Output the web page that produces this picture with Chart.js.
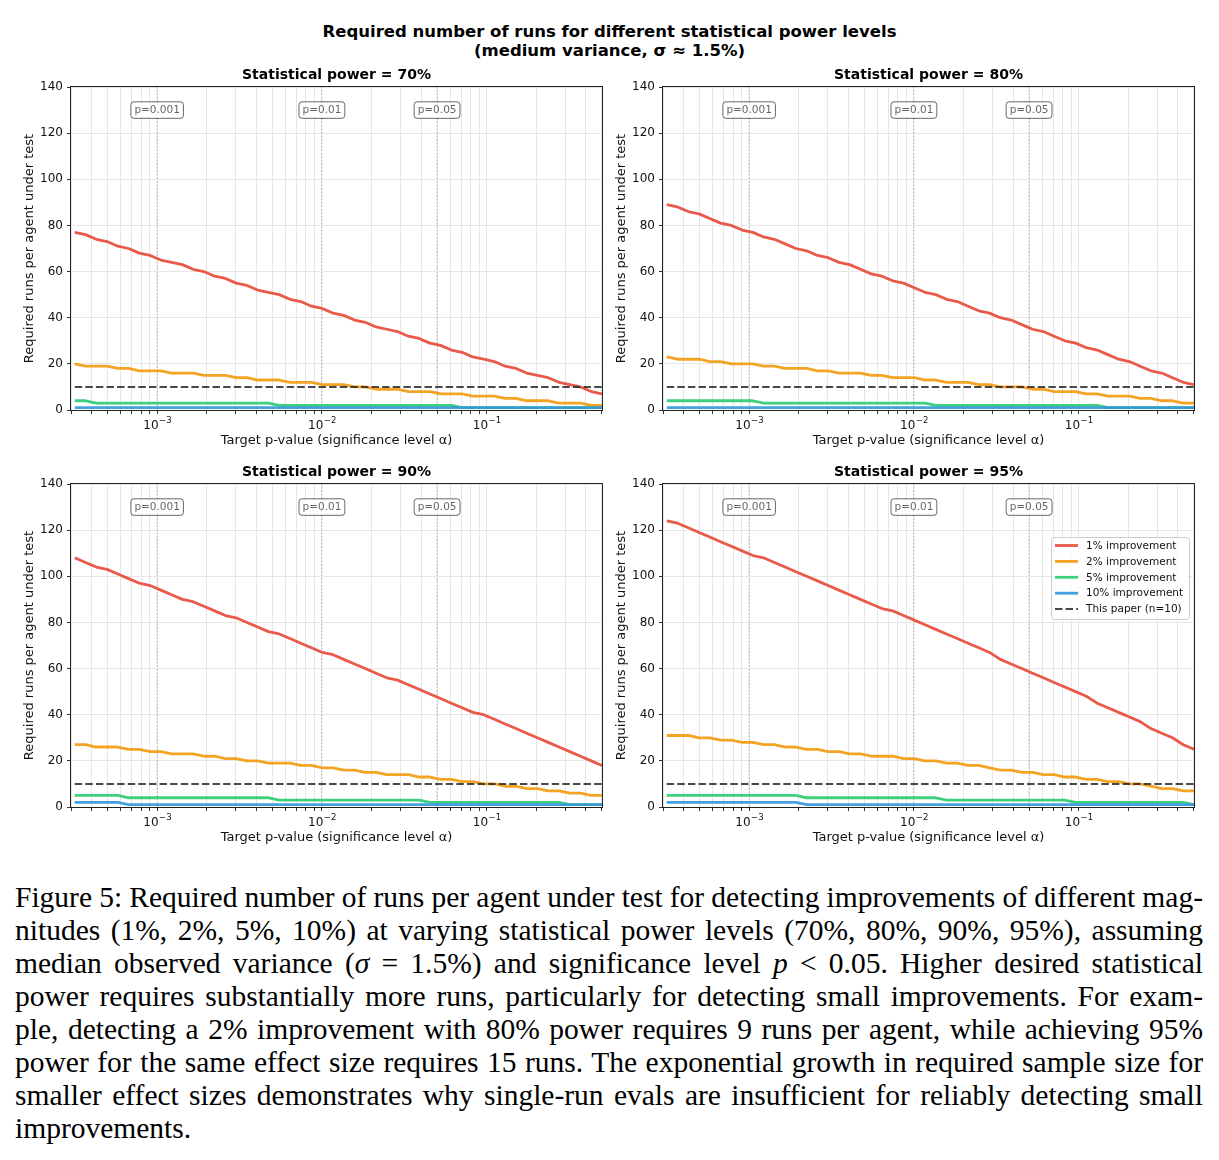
<!DOCTYPE html>
<html>
<head>
<meta charset="utf-8">
<title>Required number of runs for different statistical power levels</title>
<script src="https://cdn.jsdelivr.net/npm/chart.js@4.4.1/dist/chart.umd.min.js"></script>
<style>
  body { margin: 0; background: #fff; }
  #page { position: relative; width: 1219px; height: 1160px; overflow: hidden; font-family: 'DejaVu Sans', sans-serif; }
  #suptitle { position: absolute; left: 0; top: 22px; width: 1219px; text-align: center; font-weight: bold; font-size: 16.5px; line-height: 19px; color: #000; }
  .panel { position: absolute; width: 612px; height: 392px; }
  #caption { position: absolute; left: 15px; top: 881px; width: 1188px; font-family: 'Liberation Serif', serif; font-size: 29.5px; line-height: 33px; color: #000; }
  #caption .ln { white-space: nowrap; }
</style>
</head>
<body>
<div id="page">
  <div id="suptitle">Required number of runs for different statistical power levels<br>(medium variance, σ ≈ 1.5%)</div>
  <div class="panel" style="left:0px;top:60px"><canvas id="p70" width="612" height="392"></canvas></div>
  <div class="panel" style="left:592px;top:60px"><canvas id="p80" width="612" height="392"></canvas></div>
  <div class="panel" style="left:0px;top:457px"><canvas id="p90" width="612" height="392"></canvas></div>
  <div class="panel" style="left:592px;top:457px"><canvas id="p95" width="612" height="392"></canvas></div>
  <div id="caption">
    <div class="ln"><span>Figure 5: Required number of runs per agent under test for detecting improvements of different mag-</span></div>
    <div class="ln"><span>nitudes (1%, 2%, 5%, 10%) at varying statistical power levels (70%, 80%, 90%, 95%), assuming</span></div>
    <div class="ln"><span>median observed variance (<i>σ</i> = 1.5%) and significance level <i>p</i> &lt; 0.05. Higher desired statistical</span></div>
    <div class="ln"><span>power requires substantially more runs, particularly for detecting small improvements. For exam-</span></div>
    <div class="ln"><span>ple, detecting a 2% improvement with 80% power requires 9 runs per agent, while achieving 95%</span></div>
    <div class="ln"><span>power for the same effect size requires 15 runs. The exponential growth in required sample size for</span></div>
    <div class="ln"><span>smaller effect sizes demonstrates why single-run evals are insufficient for reliably detecting small</span></div>
    <div class="ln last"><span>improvements.</span></div>
  </div>
</div>
<script>
// target p-values (x axis, log spaced)
const alphaValues = [
  0.0003162, 0.0003677, 0.0004272, 0.0004966, 0.0005772, 0.0006709, 0.0007795, 0.0009061, 0.001053, 0.001224,
  0.001422, 0.001653, 0.001921, 0.002233, 0.002596, 0.003017, 0.003507, 0.004075, 0.004737, 0.005506,
  0.006399, 0.007437, 0.008644, 0.01005, 0.01168, 0.01357, 0.01577, 0.01833, 0.02131, 0.02477,
  0.02878, 0.03345, 0.03888, 0.04519, 0.05252, 0.06105, 0.07096, 0.08247, 0.09586, 0.1114,
  0.1295, 0.1505, 0.1749, 0.2033, 0.2363, 0.2747, 0.3193, 0.3711, 0.4313, 0.5012
];

// power = 70%
const runs1pct70 = [77,76,74,73,71,70,68,67,65,64, 63,61,60,58,57,55,54,52,51,50, 48,47,45,44,42,41,39,38,36,35, 34,32,31,29,28,26,25,23,22,21, 19,18,16,15,14,12,11,10,8,7];
const runs2pct70 = [20,19,19,19,18,18,17,17,17,16, 16,16,15,15,15,14,14,13,13,13, 12,12,12,11,11,11,10,10,9,9, 9,8,8,8,7,7,7,6,6,6, 5,5,4,4,4,3,3,3,2,2];
const runs5pct70 = [4,4,3,3,3,3,3,3,3,3, 3,3,3,3,3,3,3,3,3,2, 2,2,2,2,2,2,2,2,2,2, 2,2,2,2,2,2,1,1,1,1, 1,1,1,1,1,1,1,1,1,1];
const runs10pct70 = [1,1,1,1,1,1,1,1,1,1, 1,1,1,1,1,1,1,1,1,1, 1,1,1,1,1,1,1,1,1,1, 1,1,1,1,1,1,1,1,1,1, 1,1,1,1,1,1,1,1,1,1];

// power = 80%
const runs1pct80 = [89,88,86,85,83,81,80,78,77,75, 74,72,70,69,67,66,64,63,61,59, 58,56,55,53,51,50,48,47,45,43, 42,40,39,37,35,34,32,30,29,27, 26,24,22,21,19,17,16,14,12,11];
const runs2pct80 = [23,22,22,22,21,21,20,20,20,19, 19,18,18,18,17,17,16,16,16,15, 15,14,14,14,13,13,12,12,12,11, 11,10,10,10,9,9,8,8,8,7, 7,6,6,6,5,5,4,4,3,3];
const runs5pct80 = [4,4,4,4,4,4,4,4,4,3, 3,3,3,3,3,3,3,3,3,3, 3,3,3,3,3,2,2,2,2,2, 2,2,2,2,2,2,2,2,2,2, 2,1,1,1,1,1,1,1,1,1];
const runs10pct80 = [1,1,1,1,1,1,1,1,1,1, 1,1,1,1,1,1,1,1,1,1, 1,1,1,1,1,1,1,1,1,1, 1,1,1,1,1,1,1,1,1,1, 1,1,1,1,1,1,1,1,1,1];

// power = 90%
const runs1pct90 = [108,106,104,103,101,99,97,96,94,92, 90,89,87,85,83,82,80,78,76,75, 73,71,69,67,66,64,62,60,58,56, 55,53,51,49,47,45,43,41,40,38, 36,34,32,30,28,26,24,22,20,18];
const runs2pct90 = [27,27,26,26,26,25,25,24,24,23, 23,23,22,22,21,21,20,20,19,19, 19,18,18,17,17,16,16,15,15,14, 14,14,13,13,12,12,11,11,10,10, 9,9,8,8,7,7,6,6,5,5];
const runs5pct90 = [5,5,5,5,5,4,4,4,4,4, 4,4,4,4,4,4,4,4,4,3, 3,3,3,3,3,3,3,3,3,3, 3,3,3,2,2,2,2,2,2,2, 2,2,2,2,2,2,1,1,1,1];
const runs10pct90 = [2,2,2,2,2,1,1,1,1,1, 1,1,1,1,1,1,1,1,1,1, 1,1,1,1,1,1,1,1,1,1, 1,1,1,1,1,1,1,1,1,1, 1,1,1,1,1,1,1,1,1,1];

// power = 95%
const runs1pct95 = [124,123,121,119,117,115,113,111,109,108, 106,104,102,100,98,96,94,92,90,88, 86,85,83,81,79,77,75,73,71,69, 67,64,62,60,58,56,54,52,50,48, 45,43,41,39,37,34,32,30,27,25];
const runs2pct95 = [31,31,31,30,30,29,29,28,28,27, 27,26,26,25,25,24,24,23,23,22, 22,22,21,21,20,20,19,19,18,18, 17,16,16,15,15,14,14,13,13,12, 12,11,11,10,10,9,8,8,7,7];
const runs5pct95 = [5,5,5,5,5,5,5,5,5,5, 5,5,5,4,4,4,4,4,4,4, 4,4,4,4,4,4,3,3,3,3, 3,3,3,3,3,3,3,3,2,2, 2,2,2,2,2,2,2,2,2,1];
const runs10pct95 = [2,2,2,2,2,2,2,2,2,2, 2,2,2,1,1,1,1,1,1,1, 1,1,1,1,1,1,1,1,1,1, 1,1,1,1,1,1,1,1,1,1, 1,1,1,1,1,1,1,1,1,1];

const improvementLabels = ['1% improvement', '2% improvement', '5% improvement', '10% improvement'];
const lineColors = ['rgba(231,76,60,0.92)', 'rgba(243,156,18,0.92)', 'rgba(46,204,113,0.92)', 'rgba(52,152,219,0.92)'];
const paperRuns = 10;
const paperLabel = 'This paper (n=10)';
const pMarks = [0.001, 0.01, 0.05];
const pMarkLabels = ['p=0.001', 'p=0.01', 'p=0.05'];
const pMarkLabelY = 130;
const yMax = 140;
const yStep = 20;

Chart.defaults.font.family = "'DejaVu Sans', sans-serif";
Chart.defaults.color = '#111';

function isDecade(value) {
  const e = Math.log10(value);
  return Math.abs(e - Math.round(e)) < 1e-9;
}

// titles, p-value boxes, decade labels, frame and (optionally) legend
function makeDecor(title, showLegend) {
  return {
    id: 'panelDecor',
    afterDatasetsDraw(chart) {
      const { ctx, scales: { x, y } } = chart;
      ctx.save();
      ctx.font = "10.5px 'DejaVu Sans'";
      ctx.textAlign = 'center';
      ctx.textBaseline = 'middle';
      pMarks.forEach((p, i) => {
        const px = x.getPixelForValue(p);
        const py = y.getPixelForValue(pMarkLabelY);
        const w = ctx.measureText(pMarkLabels[i]).width + 7;
        const h = 16.5;
        ctx.beginPath();
        ctx.roundRect(px - w / 2, py - h / 2, w, h, 3);
        ctx.fillStyle = 'rgba(255,255,255,0.75)';
        ctx.fill();
        ctx.strokeStyle = 'rgba(0,0,0,0.6)';
        ctx.lineWidth = 1;
        ctx.stroke();
        ctx.fillStyle = 'rgba(0,0,0,0.62)';
        ctx.fillText(pMarkLabels[i], px, py + 0.5);
      });
      ctx.restore();
    },
    afterDraw(chart) {
      const { ctx, chartArea: a, scales: { x } } = chart;
      ctx.save();
      // frame
      ctx.strokeStyle = '#222';
      ctx.lineWidth = 1;
      ctx.strokeRect(a.left - 0.5, a.top - 0.5, a.right - a.left + 1, a.bottom - a.top + 1);

      // decade tick labels with a real superscript
      ctx.fillStyle = '#111';
      ctx.textAlign = 'left';
      ctx.textBaseline = 'alphabetic';
      x.ticks.forEach(t => {
        if (!isDecade(t.value)) return;
        const px = x.getPixelForValue(t.value);
        const base = '10';
        const exp = '\u2212' + Math.abs(Math.round(Math.log10(t.value)));
        ctx.font = "12px 'DejaVu Sans'";
        const wb = ctx.measureText(base).width;
        ctx.font = "8.5px 'DejaVu Sans'";
        const we = ctx.measureText(exp).width;
        const left = px - (wb + we) / 2;
        ctx.font = "12px 'DejaVu Sans'";
        ctx.fillText(base, left, a.bottom + 18.5);
        ctx.font = "8.5px 'DejaVu Sans'";
        ctx.fillText(exp, left + wb + 0.5, a.bottom + 12.5);
      });

      // subplot title
      ctx.fillStyle = '#000';
      ctx.font = "bold 14px 'DejaVu Sans'";
      ctx.textAlign = 'center';
      ctx.textBaseline = 'middle';
      ctx.fillText(title, (a.left + a.right) / 2, a.top - 12);

      if (showLegend) {
        const items = chart.data.datasets.filter(d => d.inLegend);
        const x0 = a.right - 143, y0 = a.top + 53, w = 138, h = 82;
        ctx.beginPath();
        ctx.roundRect(x0 + 0.5, y0 + 0.5, w, h, 3);
        ctx.fillStyle = 'rgba(255,255,255,0.8)';
        ctx.fill();
        ctx.strokeStyle = '#cccccc';
        ctx.lineWidth = 1;
        ctx.stroke();
        ctx.font = "10.5px 'DejaVu Sans'";
        ctx.textAlign = 'left';
        items.forEach((d, i) => {
          const yy = y0 + 8.5 + i * 15.9;
          ctx.beginPath();
          ctx.setLineDash(d.borderDash || []);
          ctx.strokeStyle = d.borderColor;
          ctx.lineWidth = d.borderWidth;
          ctx.moveTo(x0 + 4, yy);
          ctx.lineTo(x0 + 27, yy);
          ctx.stroke();
          ctx.setLineDash([]);
          ctx.fillStyle = '#111';
          ctx.fillText(d.label, x0 + 35, yy + 0.5);
        });
      }
      ctx.restore();
    }
  };
}

function buildPanel(canvasId, power, series, showLegend) {
  const datasets = series.map((vals, k) => ({
    label: improvementLabels[k],
    data: alphaValues.map((a, i) => ({ x: a, y: vals[i] })),
    borderColor: lineColors[k],
    borderWidth: 2.8,
    borderJoinStyle: 'round',
    pointRadius: 0,
    inLegend: true,
    order: 6 - k
  }));
  datasets.push({
    label: paperLabel,
    data: [{ x: alphaValues[0], y: paperRuns }, { x: alphaValues[alphaValues.length - 1], y: paperRuns }],
    borderColor: 'rgba(40,40,40,0.85)',
    borderWidth: 2,
    borderDash: [7.4, 3.2],
    pointRadius: 0,
    inLegend: true,
    order: 1
  });
  pMarks.forEach(p => datasets.push({
    label: '',
    data: [{ x: p, y: 0 }, { x: p, y: yMax }],
    borderColor: 'rgba(128,128,128,0.6)',
    borderWidth: 1,
    borderDash: [1.5, 2],
    pointRadius: 0,
    order: 10
  }));

  new Chart(document.getElementById(canvasId), {
    type: 'line',
    data: { datasets },
    options: {
      responsive: false,
      animation: false,
      devicePixelRatio: 1,
      layout: { padding: { top: 27, right: 10, left: 0, bottom: 0 } },
      plugins: { legend: { display: false }, tooltip: { enabled: false } },
      scales: {
        x: {
          type: 'logarithmic',
          min: alphaValues[0],
          max: alphaValues[alphaValues.length - 1],
          afterBuildTicks: s => {
            // keep only 1..9 x 10^n ticks like matplotlib minor/major ticks
            s.ticks = s.ticks.filter(t => {
              const m = t.value / Math.pow(10, Math.floor(Math.log10(t.value) + 1e-9));
              return Math.abs(m - Math.round(m)) < 1e-6;
            });
          },
          grid: { color: '#e6e6e6', lineWidth: 1, tickLength: 4, tickColor: '#333' },
          border: { display: false },
          ticks: { autoSkip: false, maxRotation: 0, padding: 3, font: { size: 12 }, callback: () => '' },
          title: { display: true, text: 'Target p-value (significance level α)', font: { size: 13 }, padding: { top: 0, bottom: 4 } },
          afterFit: s => { s.height = 42; }
        },
        y: {
          min: 0,
          max: yMax,
          grid: { color: '#e6e6e6', lineWidth: 1, tickLength: 4, tickColor: '#333' },
          border: { display: false },
          ticks: { stepSize: yStep, padding: 4, font: { size: 12 } },
          title: { display: true, text: 'Required runs per agent under test', font: { size: 13 }, padding: { top: 22, bottom: 0 } },
          afterFit: s => { s.width = 71; }
        }
      }
    },
    plugins: [makeDecor('Statistical power = ' + power, showLegend)]
  });
}

buildPanel('p70', '70%', [runs1pct70, runs2pct70, runs5pct70, runs10pct70], false);
buildPanel('p80', '80%', [runs1pct80, runs2pct80, runs5pct80, runs10pct80], false);
buildPanel('p90', '90%', [runs1pct90, runs2pct90, runs5pct90, runs10pct90], false);
buildPanel('p95', '95%', [runs1pct95, runs2pct95, runs5pct95, runs10pct95], true);

// justify caption lines (LaTeX style) by adjusting word spacing
document.querySelectorAll('#caption .ln').forEach(line => {
  if (line.classList.contains('last')) return;
  const span = line.querySelector('span');
  const w = span.getBoundingClientRect().width;
  const spaces = (span.textContent.match(/ /g) || []).length;
  span.style.wordSpacing = ((1188 - w) / spaces) + 'px';
});
</script>
</body>
</html>
